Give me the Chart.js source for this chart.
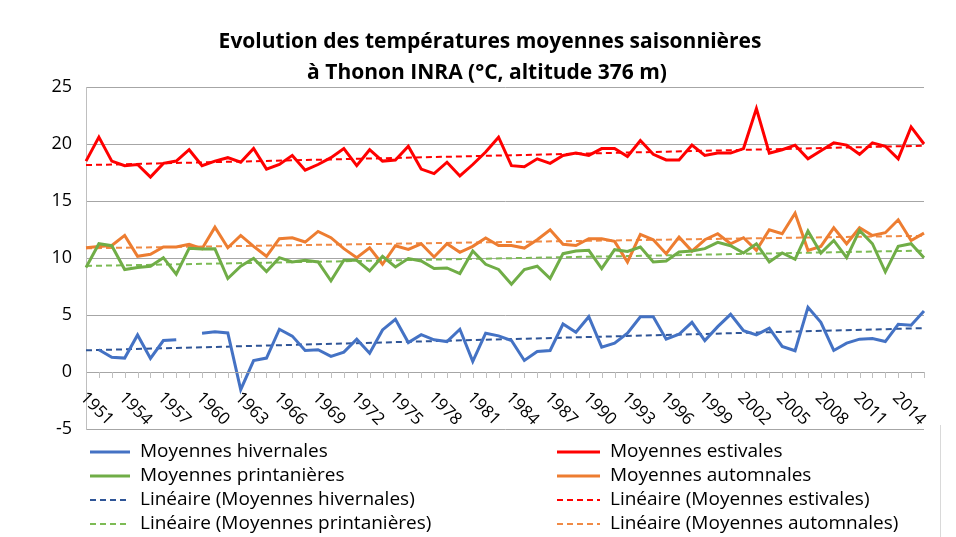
<!DOCTYPE html>
<html>
<head>
<meta charset="utf-8">
<script src="https://cdn.jsdelivr.net/npm/chart.js@4/dist/chart.umd.min.js"></script>
<style>
  html, body { margin: 0; padding: 0; background: #fff; }
  #wrap { width: 956px; height: 537px; position: relative; }
</style>
</head>
<body>
<div id="wrap"><canvas id="c" width="956" height="537"></canvas></div>
<script>
// ---- DATA ----
const years = [];
for (let y = 1951; y <= 2016; y++) years.push(String(y));
const tickLabels = ['1951','1954','1957','1960','1963','1966','1969','1972','1975','1978','1981','1984','1987','1990','1993','1996','1999','2002','2005','2008','2011','2014'];

const hivernales = [null,1.95,1.3,1.22,3.25,1.19,2.76,2.82,null,3.4,
  3.52,3.43,-1.55,1.0,1.22,3.75,3.15,1.89,1.95,1.37,
  1.74,2.88,1.65,3.69,4.62,2.58,3.28,2.82,2.67,3.75,
  0.93,3.4,3.17,2.76,1.01,1.8,1.89,4.21,3.49,4.85,
  2.18,2.53,3.4,4.85,4.85,2.88,3.31,4.36,2.76,3.98,
  5.06,3.63,3.25,3.84,2.24,1.86,5.67,4.36,1.89,2.53,
  2.88,2.93,2.67,4.19,4.1,5.35];
const estivales = [18.5,20.6,18.5,18.1,18.2,17.1,18.3,18.5,19.5,18.1,
  18.5,18.8,18.4,19.6,17.8,18.2,19.0,17.7,18.2,18.8,
  19.6,18.1,19.5,18.5,18.6,19.8,17.8,17.4,18.4,17.2,
  18.2,19.3,20.6,18.1,18.0,18.7,18.3,19.0,19.2,19.0,
  19.6,19.6,18.9,20.3,19.1,18.6,18.6,19.9,19.0,19.2,
  19.2,19.6,23.1,19.2,19.5,19.9,18.7,19.4,20.1,19.9,
  19.1,20.1,19.8,18.7,21.5,20.0];
const printanieres = [9.16,11.25,11.08,8.99,9.16,9.28,10.03,8.58,10.85,10.79,
  10.8,8.2,9.28,9.97,8.81,10.03,9.65,9.8,9.65,8.0,
  9.8,9.8,8.87,10.15,9.22,9.95,9.74,9.07,9.13,8.64,
  10.61,9.45,9.0,7.7,8.99,9.28,8.2,10.38,10.61,10.67,
  9.07,10.73,10.58,10.96,9.65,9.74,10.52,10.61,10.82,11.37,
  11.08,10.44,11.25,9.65,10.44,9.89,12.36,10.44,11.54,10.03,
  12.42,11.25,8.78,11.02,11.25,10.03];
const automnales = [10.9,11.0,11.1,11.98,10.15,10.32,10.96,10.96,11.2,10.82,
  12.7,10.9,11.98,11.02,10.15,11.69,11.78,11.4,12.33,11.78,
  10.82,10.03,10.9,9.45,11.08,10.76,11.25,10.09,11.25,10.5,
  11.02,11.75,11.1,11.1,10.87,11.6,12.48,11.2,11.1,11.69,
  11.69,11.46,9.65,12.07,11.6,10.38,11.83,10.61,11.6,12.13,
  11.25,11.78,10.67,12.48,12.13,13.93,10.67,11.02,12.65,11.25,
  12.65,11.98,12.22,13.35,11.54,12.18];
// trend line end values (first year, last year)
const trendHiv = [1.9, 3.85];
const trendEst = [18.15, 19.85];
const trendPri = [9.3, 10.65];
const trendAut = [10.85, 11.95];

const seriesNames = ['Moyennes hivernales','Moyennes estivales','Moyennes printanières','Moyennes automnales'];
const titleLines = ['Evolution des températures moyennes saisonnières', 'à Thonon INRA (°C, altitude 376 m)'];
const yTicks = [25,20,15,10,5,0,-5];

// ---- STYLE ----
const FONT = "'Open Sans', 'Liberation Sans', sans-serif";
const C_BLUE = '#4472C4', C_RED = '#FF0000', C_GREEN = '#70AD47', C_ORANGE = '#ED7D31';

function ends(arr) {
  return [{x: years[0], y: arr[0]}, {x: years[years.length - 1], y: arr[1]}];
}
function solid(label, data, color) {
  return { label, data, borderColor: color, backgroundColor: color, borderWidth: 3,
    pointRadius: 0, tension: 0, spanGaps: false, fill: false, _dash: [] };
}
function dashed(label, data, color) {
  return { label, data, borderColor: color, backgroundColor: color, borderWidth: 2,
    borderDash: [6, 4], pointRadius: 0, tension: 0, fill: false, _dash: [6, 4] };
}

const datasets = [
  solid(seriesNames[0], hivernales, C_BLUE),
  solid(seriesNames[1], estivales, C_RED),
  solid(seriesNames[2], printanieres, C_GREEN),
  solid(seriesNames[3], automnales, C_ORANGE),
  dashed('Linéaire (' + seriesNames[0] + ')', ends(trendHiv), '#2F5597'),
  dashed('Linéaire (' + seriesNames[1] + ')', ends(trendEst), C_RED),
  dashed('Linéaire (' + seriesNames[2] + ')', ends(trendPri), '#7DBB55'),
  dashed('Linéaire (' + seriesNames[3] + ')', ends(trendAut), '#F08A45')
];

const decor = {
  id: 'decor',
  afterDatasetsDraw(chart) {
    const ctx = chart.ctx;
    const xs = chart.scales.x, ys = chart.scales.y;
    const y0 = ys.getPixelForValue(0);
    ctx.save();
    ctx.strokeStyle = '#A6A6A6';
    ctx.lineWidth = 1;
    ctx.beginPath();
    ctx.moveTo(chart.chartArea.left, Math.round(y0) + 0.5);
    ctx.lineTo(chart.chartArea.right, Math.round(y0) + 0.5);
    ctx.stroke();
    ctx.strokeStyle = '#BFBFBF';
    for (let i = 0; i < years.length; i++) {
      const x = Math.round(xs.getPixelForValue(i)) + 0.5;
      ctx.beginPath();
      ctx.moveTo(x, y0);
      ctx.lineTo(x, y0 + 6);
      ctx.stroke();
    }
    ctx.fillStyle = '#000';
    ctx.font = '17px ' + FONT;
    ctx.textAlign = 'left';
    ctx.textBaseline = 'middle';
    tickLabels.forEach(lbl => {
      const idx = years.indexOf(lbl);
      const x = xs.getPixelForValue(idx);
      ctx.save();
      ctx.translate(x - 3, y0 + 23);
      ctx.rotate(Math.PI / 4);
      ctx.fillText(lbl, 0, 0);
      ctx.restore();
    });
    ctx.restore();
  },
  afterDraw(chart) {
    const ctx = chart.ctx;
    ctx.save();
    // title
    ctx.fillStyle = '#000';
    ctx.font = 'bold 21px ' + FONT;
    ctx.textAlign = 'center';
    ctx.textBaseline = 'middle';
    ctx.fillText(titleLines[0], 490, 42);
    ctx.fillText(titleLines[1], 487, 73);
    // legend
    const rows = [452, 476, 500, 524];
    const cols = [{ s: 90, e: 130, t: 140 }, { s: 557, e: 600, t: 610 }];
    ctx.font = '19px ' + FONT;
    ctx.textAlign = 'left';
    chart.data.datasets.forEach((ds, k) => {
      const r = rows[Math.floor(k / 2)];
      const c = cols[k % 2];
      ctx.strokeStyle = ds.borderColor;
      ctx.lineWidth = ds.borderWidth;
      ctx.setLineDash(ds._dash);
      ctx.beginPath();
      ctx.moveTo(c.s, r);
      ctx.lineTo(c.e, r);
      ctx.stroke();
      ctx.setLineDash([]);
      ctx.fillStyle = '#000';
      ctx.fillText(ds.label, c.t, r);
    });
    ctx.strokeStyle = '#D9D9D9';
    ctx.lineWidth = 1;
    ctx.beginPath();
    ctx.moveTo(940.5, 425);
    ctx.lineTo(940.5, 537);
    ctx.stroke();
    ctx.restore();
  }
};

new Chart(document.getElementById('c'), {
  type: 'line',
  data: { labels: years, datasets },
  options: {
    responsive: false,
    animation: false,
    events: [],
    layout: { padding: { left: 0, right: 32, top: 87, bottom: 0 } },
    plugins: {
      legend: { display: false },
      tooltip: { enabled: false },
      title: { display: false }
    },
    scales: {
      x: {
        type: 'category',
        offset: false,
        grid: { display: false, drawTicks: false },
        border: { display: false },
        ticks: { display: false },
        afterFit(s) { s.height = 108; }
      },
      y: {
        min: -5, max: 25,
        afterBuildTicks(s) { s.ticks = yTicks.map(v => ({ value: v })); },
        grid: { color: '#A6A6A6', lineWidth: 1, drawTicks: false },
        border: { display: true, color: '#BFBFBF', width: 1 },
        ticks: { color: '#000', font: { family: FONT, size: 18 }, padding: 14 },
        afterFit(s) { s.width = 86; }
      }
    }
  },
  plugins: [decor]
});
</script>
</body>
</html>
